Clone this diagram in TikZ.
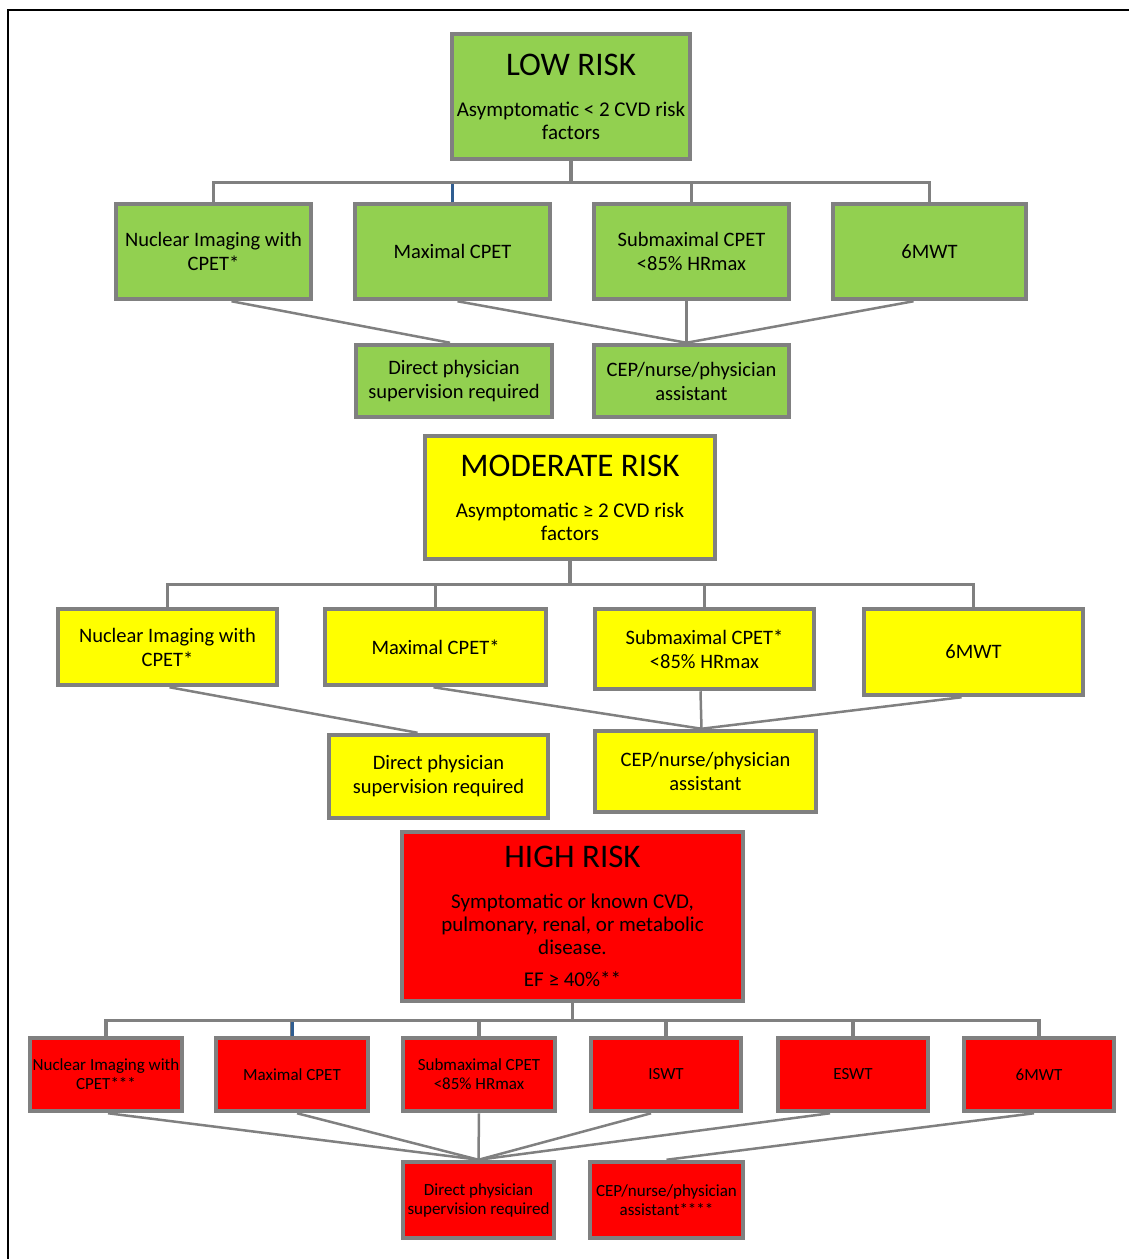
\documentclass[tikz,border=0pt]{standalone}
\usepackage{fontspec}
\setmainfont{Carlito}
\usepackage{tikz}
\usetikzlibrary{positioning}
\definecolor{lowgreen}{RGB}{146,208,80}
\definecolor{modyellow}{RGB}{255,255,0}
\definecolor{highred}{RGB}{255,0,0}
\definecolor{edgegray}{RGB}{128,128,128}
\definecolor{linkblue}{RGB}{47,93,145}
\tikzstyle{riskbox} = [rectangle, draw=edgegray, line width=4.5pt, align=center, inner sep=0pt, text=black]
\tikzstyle{lowbox} = [riskbox, fill=lowgreen]
\tikzstyle{modbox} = [riskbox, fill=modyellow]
\tikzstyle{highbox} = [riskbox, fill=highred]
\tikzstyle{headtext} = [font=\fontsize{21}{23}\selectfont]
\tikzstyle{testtext} = [font=\fontsize{20.5}{24}\selectfont]
\tikzstyle{smalltext} = [font=\fontsize{17}{19}\selectfont]
\tikzstyle{link} = [draw=edgegray, line width=3.5pt]
\tikzstyle{bluelink} = [draw=linkblue, line width=3pt]
\tikzstyle{leg} = [draw=edgegray, line width=2.5pt]
\newcommand{\risktitle}[1]{{\fontsize{33}{36}\selectfont #1}}

\begin{document}
\begin{tikzpicture}[x=1pt, y=-1pt]
    \useasboundingbox (0,0) rectangle (1129,1259);
    \draw[line width=2.5pt] (8,1262) -- (8,10) -- (1132,10);

    % low risk
    \node (low) [lowbox, headtext, minimum width=238, minimum height=125] at (571,96.5)
        {\risktitle{LOW RISK}\\[18pt]Asymptomatic < 2 CVD risk\\factors};
    \node (lnuc) [lowbox, testtext, minimum width=195, minimum height=95] at (213.5,251.5) {Nuclear Imaging with\\CPET*};
    \node (lmax) [lowbox, testtext, minimum width=195, minimum height=95] at (452.5,251.5) {Maximal CPET};
    \node (lsub) [lowbox, testtext, minimum width=195, minimum height=95] at (691.5,251.5) {Submaximal CPET\\<85\% HRmax};
    \node (lsix) [lowbox, testtext, minimum width=193, minimum height=95] at (929.5,251.5) {6MWT};
    \node (ldir) [lowbox, testtext, minimum width=196, minimum height=72] at (454,381) {Direct physician\\supervision required};
    \node (lcep) [lowbox, testtext, minimum width=195, minimum height=72] at (691.5,381) {CEP/nurse/physician\\assistant};

    \coordinate (lbus) at ([yshift=-21pt]low.south);
    \foreach \c in {lnuc,lmax,lsub,lsix}
        \draw[link] (low.south) -- (lbus) -| (\c.north);
    \draw[bluelink] (lmax.north) -- ([yshift=-1.75pt]lmax.north |- lbus);
    \draw[leg] ([xshift=18pt]lnuc.south) -- ([xshift=-4pt]ldir.north);
    \foreach \c/\dx in {lmax/5,lsub/-5,lsix/-16}
        \draw[leg] ([xshift=\dx pt]\c.south) -- ([xshift=-5pt]lcep.north);

    % moderate risk
    \node (mod) [modbox, headtext, minimum width=290, minimum height=123] at (570,497.5)
        {\risktitle{MODERATE RISK}\\[18pt]Asymptomatic ≥ 2 CVD risk\\factors};
    \node (mnuc) [modbox, testtext, minimum width=219, minimum height=76] at (167.5,647) {Nuclear Imaging with\\CPET*};
    \node (mmax) [modbox, testtext, minimum width=221, minimum height=76] at (435.5,647) {Maximal CPET*};
    \node (msub) [modbox, testtext, minimum width=219, minimum height=80] at (704.5,649) {Submaximal CPET*\\<85\% HRmax};
    \node (msix) [modbox, testtext, minimum width=219, minimum height=86] at (973.5,652) {6MWT};
    \node (mdir) [modbox, testtext, minimum width=219, minimum height=83] at (438.5,776.5) {Direct physician\\supervision required};
    \node (mcep) [modbox, testtext, minimum width=221, minimum height=81] at (705.5,771.5) {CEP/nurse/physician\\assistant};

    \coordinate (mbus) at ([yshift=-23pt]mod.south);
    \foreach \c in {mnuc,mmax,msub,msix}
        \draw[link] (mod.south) -- (mbus) -| (\c.north);
    \draw[leg] ([xshift=2pt]mnuc.south) -- ([xshift=-21pt]mdir.north);
    \foreach \c/\dx in {mmax/-2,msub/-4,msix/-12}
        \draw[leg] ([xshift=\dx pt]\c.south) -- ([xshift=-4pt]mcep.north);

    % high risk
    \node (high) [highbox, headtext, minimum width=341, minimum height=169] at (572.5,916.5)
        {\risktitle{HIGH RISK}\\[18pt]Symptomatic or known CVD,\\pulmonary, renal, or metabolic\\disease.\\[9pt]EF ≥ 40\%**};
    \node (hnuc) [highbox, smalltext, minimum width=152, minimum height=73] at (106,1074.5) {Nuclear Imaging with\\CPET***};
    \node (hmax) [highbox, smalltext, minimum width=152, minimum height=73] at (292,1074.5) {Maximal CPET};
    \node (hsub) [highbox, smalltext, minimum width=152, minimum height=73] at (479,1074.5) {Submaximal CPET\\<85\% HRmax};
    \node (hisw) [highbox, smalltext, minimum width=150, minimum height=73] at (666,1074.5) {ISWT};
    \node (hesw) [highbox, smalltext, minimum width=150, minimum height=73] at (853,1074.5) {ESWT};
    \node (hsix) [highbox, smalltext, minimum width=150, minimum height=73] at (1039,1074.5) {6MWT};
    \node (hdir) [highbox, smalltext, minimum width=151, minimum height=76] at (478.5,1200) {Direct physician\\supervision required};
    \node (hcep) [highbox, smalltext, minimum width=153, minimum height=76] at (666.5,1200) {CEP/nurse/physician\\assistant****};

    \coordinate (hbus) at ([yshift=-17pt]high.south);
    \foreach \c in {hnuc,hmax,hsub,hisw,hesw,hsix}
        \draw[link] (high.south) -- (hbus) -| (\c.north);
    \draw[bluelink] (hmax.north) -- ([yshift=-1.75pt]hmax.north |- hbus);
    \foreach \c/\dx in {hnuc/2,hmax/5,hsub/0,hisw/-15,hesw/-23}
        \draw[leg] ([xshift=\dx pt]\c.south) -- (hdir.north);
    \draw[leg] ([xshift=-5pt]hsix.south) -- (hcep.north);
\end{tikzpicture}
\end{document}
